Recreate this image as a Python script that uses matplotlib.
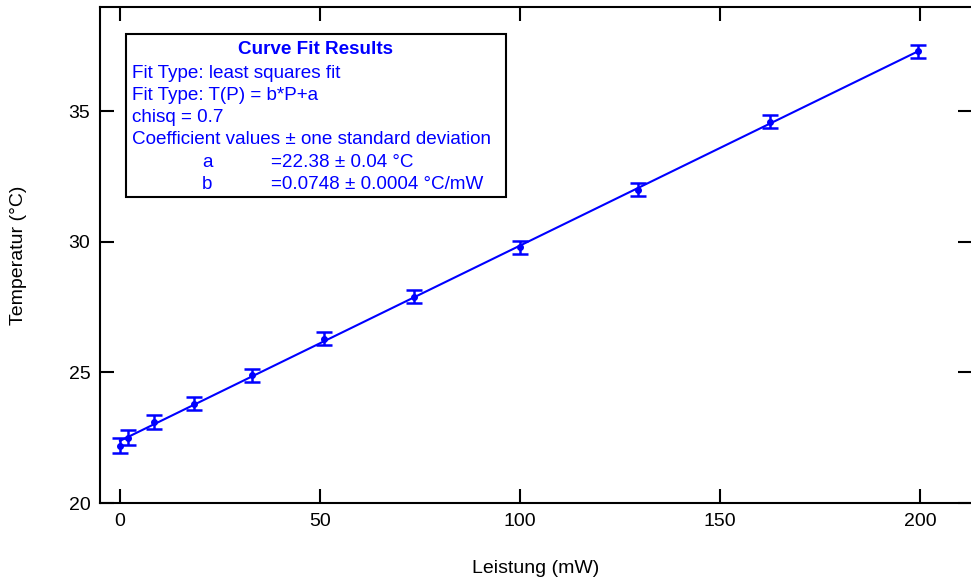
import numpy as np
import matplotlib
matplotlib.use('Agg')
import matplotlib.pyplot as plt

plt.rcParams['font.family'] = ['Liberation Sans', 'DejaVu Sans']

# measured points
leistung = [0, 2, 8.5, 18.5, 33, 51, 73.5, 100, 129.5, 162.5, 199.5]
temperatur = [22.2, 22.5, 23.1, 23.8, 24.9, 26.3, 27.9, 29.8, 32.0, 34.6, 37.3]
fehler = [0.28, 0.28, 0.28, 0.25, 0.25, 0.25, 0.25, 0.25, 0.25, 0.25, 0.25]

# fit coefficients
a = 22.38
b = 0.0748

fit_lines = ['Fit Type: least squares fit',
             'Fit Type: T(P) = b*P+a',
             'chisq = 0.7',
             'Coefficient values \u00b1 one standard deviation']
coef_names = ['a', 'b']
coef_vals = ['=22.38 \u00b1 0.04 \u00b0C', '=0.0748 \u00b1 0.0004 \u00b0C/mW']

BLUE = '#0000ff'
FS = 14
FS_BOX = 13.6

fig = plt.figure(figsize=(9.71, 5.85), dpi=100)
ax = fig.add_axes([100/971, 82/585, 872/971, 496/585])

P = np.array([0, 200])
ax.plot(P, a + b*P, color=BLUE, lw=1.5, zorder=2)
ax.errorbar(leistung, temperatur, yerr=fehler, fmt='o', ms=4, color=BLUE,
            ecolor=BLUE, elinewidth=1.8, capsize=5.5, capthick=1.8, zorder=3)

ax.set_xlim(-5, 213)
ax.set_ylim(20, 39)
ax.set_xticks([0, 50, 100, 150, 200])
ax.set_yticks([20, 25, 30, 35])
ax.tick_params(direction='in', length=10, width=1.5, labelsize=FS,
               top=True, right=True, pad=7)
for s in ax.spines.values():
    s.set_linewidth(1.5)

ax.set_xlabel('Leistung (mW)', fontsize=FS, labelpad=22)
ax.set_ylabel('Temperatur (\u00b0C)', fontsize=FS, labelpad=30)

# results box
box = plt.Rectangle((126/971, 1 - 197/585), 380/971, 163/585,
                    transform=fig.transFigure, fill=True, facecolor='white',
                    edgecolor='black', lw=1.5, zorder=5)
fig.add_artist(box)
fig.text(315/971, 1 - 50/585, 'Curve Fit Results', color=BLUE,
         fontsize=FS_BOX, fontweight='bold', ha='center', va='center', zorder=6)
y0 = 73
for i, line in enumerate(fit_lines):
    fig.text(132/971, 1 - (y0 + 22.3*i)/585, line, color=BLUE, fontsize=FS_BOX,
             ha='left', va='center', zorder=6)
for i in range(2):
    yy = 1 - (y0 + 22.3*(4 + i))/585
    fig.text(202/971, yy, coef_names[i], color=BLUE, fontsize=FS_BOX,
             ha='left', va='center', zorder=6)
    fig.text(271/971, yy, coef_vals[i], color=BLUE, fontsize=FS_BOX,
             ha='left', va='center', zorder=6)

fig.savefig('out.png', dpi=100)
